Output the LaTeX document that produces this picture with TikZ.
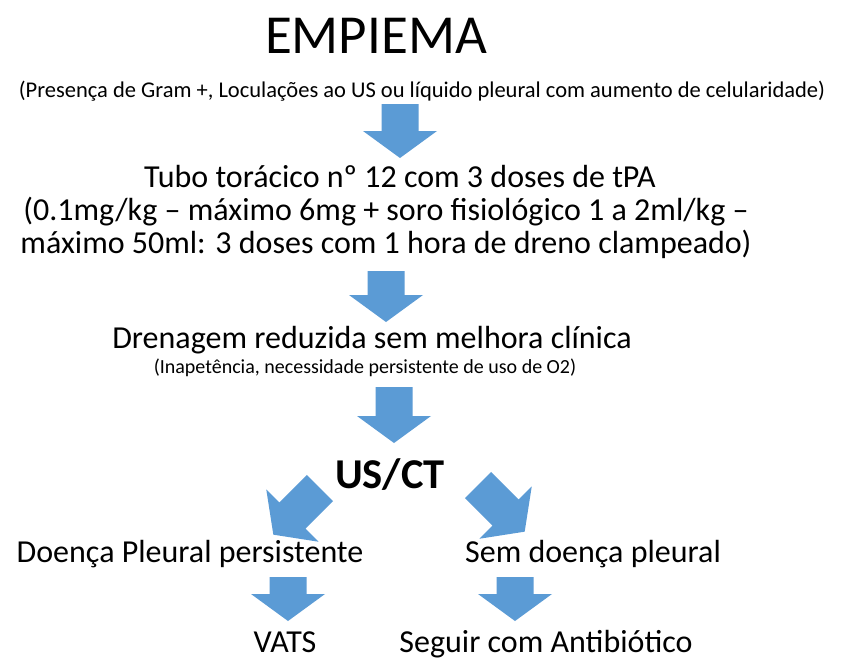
\documentclass[tikz,border=0pt]{standalone}
\usepackage{fontspec}
\setmainfont{Carlito}
\definecolor{arrowblue}{RGB}{91,155,213}
\tikzset{
  pics/blockarrow/.style={code={%
    \fill[arrowblue] (-18.5,0) -- (18.5,0) -- (18.5,#1-27) -- (37,#1-27) -- (0,#1)
      -- (-37,#1-27) -- (-18.5,#1-27) -- cycle;}},
  lbl/.style={inner sep=0pt, anchor=base},
  big/.style={lbl, font=\fontsize{32}{34}\selectfont},
}
\begin{document}
\begin{tikzpicture}[x=1pt,y=-1pt]
\useasboundingbox[fill=white] (0,0) rectangle (843,661);
\node[lbl, font=\fontsize{55}{60}\selectfont] (title) at (376,53) {EMPIEMA};
\node[lbl, font=\fontsize{22.5}{25}\selectfont] (crit) at (422,97) {(Presença de Gram +, Loculações ao US ou líquido pleural com aumento de celularidade)};
\pic at (400,104) {blockarrow=54};
\node[big] (tubo1) at (400,187) {Tubo torácico nº 12 com 3 doses de tPA};
\node[big] (tubo2) at (386,220) {(0.1mg/kg – máximo 6mg + soro fisiológico 1 a 2ml/kg –};
\node[big] (tubo3) at (386,253) {máximo 50ml: 3 doses com 1 hora de dreno clampeado)};
\pic at (386,271) {blockarrow=51};
\node[big] (dren) at (372,348) {Drenagem reduzida sem melhora clínica};
\node[lbl, font=\fontsize{20}{22}\selectfont] (inap) at (365,373) {(Inapetência, necessidade persistente de uso de O2)};
\pic at (394,387) {blockarrow=56};
\node[lbl, font=\bfseries\fontsize{42.5}{46}\selectfont] (usct) at (390,488) {US/CT};
\pic[rotate=-45] at (320,488) {blockarrow=66};
\pic[rotate=45] at (478,485) {blockarrow=66};
\node[big] (pers) at (190,562) {Doença Pleural persistente};
\node[big] (sem) at (593,562) {Sem doença pleural};
\pic at (288,577) {blockarrow=44};
\pic at (515,577) {blockarrow=44};
\node[big] (vats) at (285,652) {VATS};
\node[big] (seg) at (546,652) {Seguir com Antibiótico};
\end{tikzpicture}
\end{document}
